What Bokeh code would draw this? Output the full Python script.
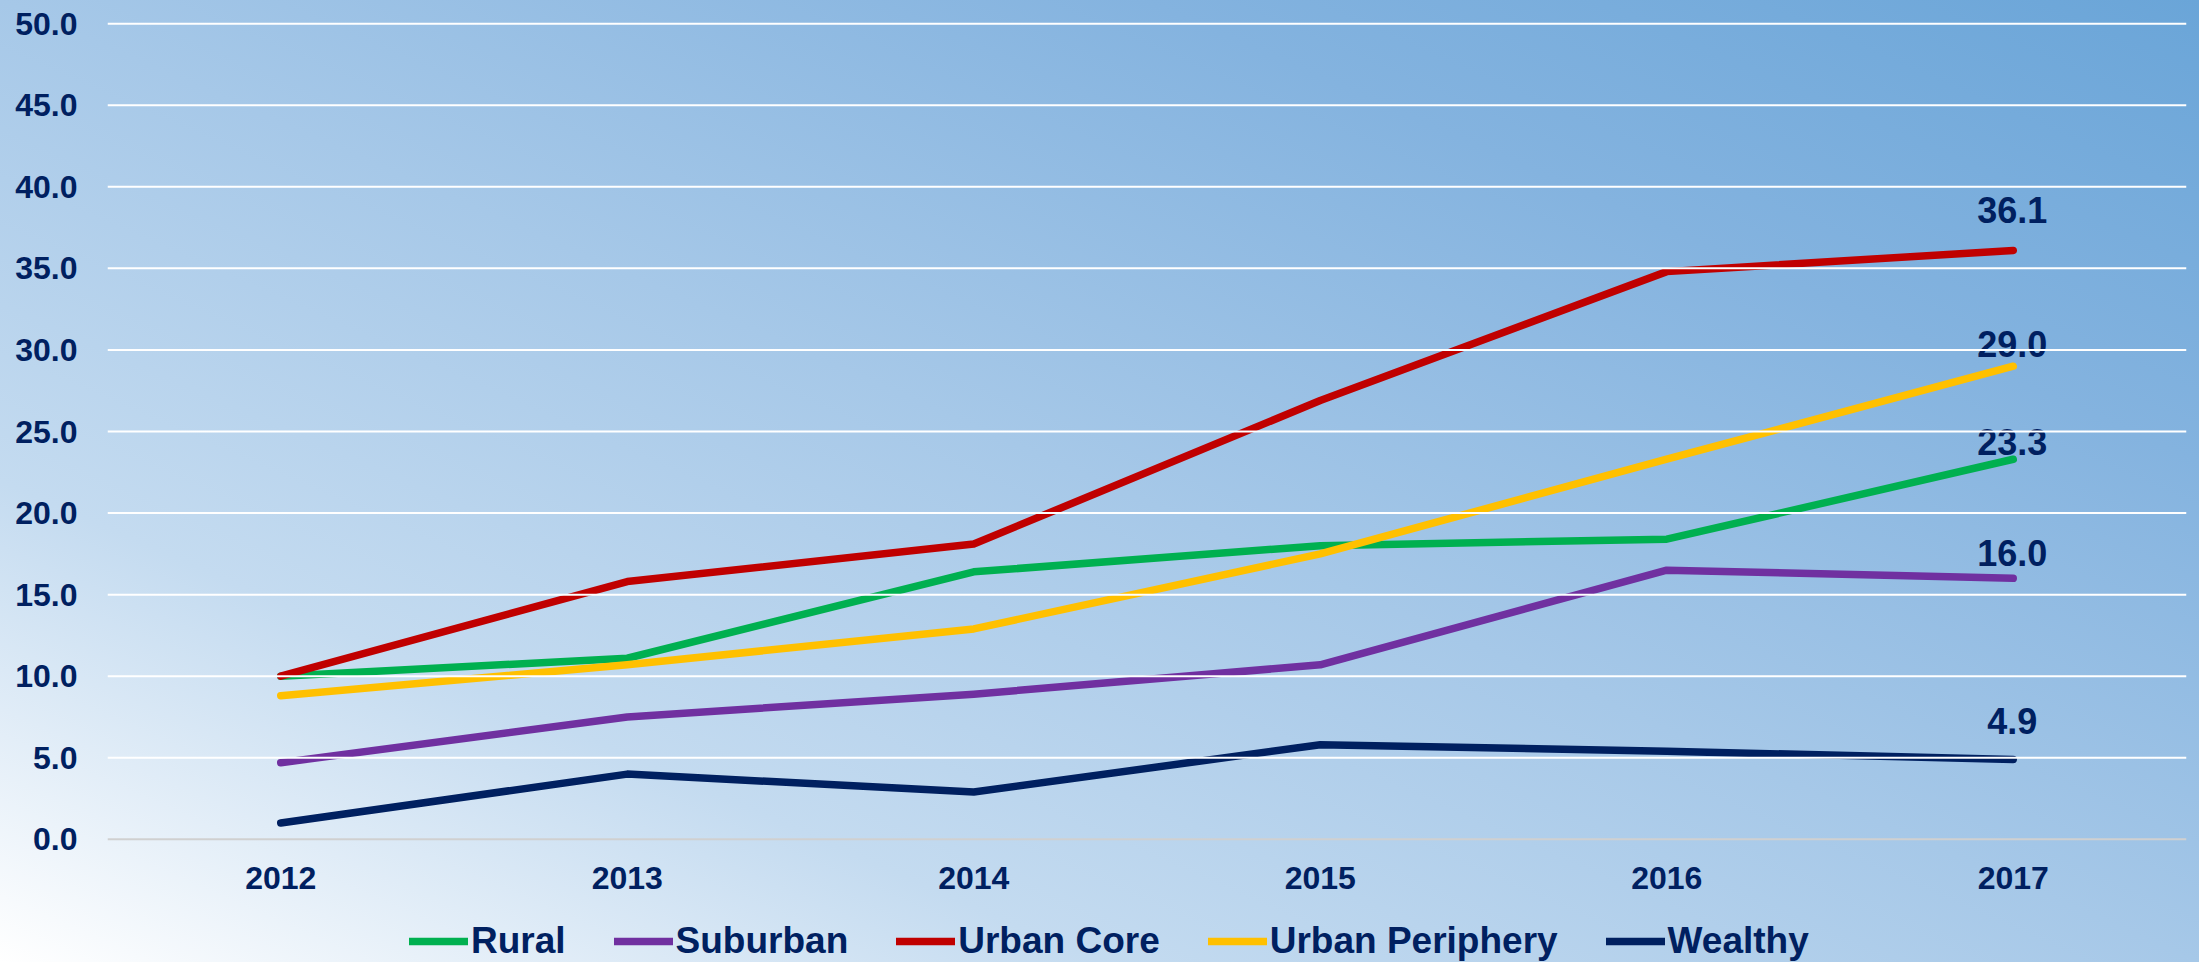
from bokeh.plotting import figure
from bokeh.layouts import column
from bokeh.models import (Range1d, FactorRange, FixedTicker, NumeralTickFormatter,
                          Legend, LegendItem, Span, ColumnDataSource)
from bokeh.core.properties import value
from bokeh.embed import file_html
from bokeh.resources import INLINE

# ---------------- data ----------------
years = ["2012", "2013", "2014", "2015", "2016", "2017"]
series_names = ["Rural", "Suburban", "Urban Core", "Urban Periphery", "Wealthy"]
rural = [10.0, 11.1, 16.4, 18.0, 18.4, 23.3]
suburban = [4.7, 7.5, 8.9, 10.7, 16.5, 16.0]
urban_core = [10.0, 15.8, 18.1, 26.9, 34.8, 36.1]
urban_periphery = [8.8, 10.7, 12.9, 17.5, 23.3, 29.0]
wealthy = [1.0, 4.0, 2.9, 5.8, 5.4, 4.9]
y_ticks = [0, 5, 10, 15, 20, 25, 30, 35, 40, 45, 50]

# ---------------- styles ----------------
colors = ["#00B050", "#7030A0", "#C00000", "#FFC000", "#002060"]
label_dy = [-17, -25, -40, -22, -38]   # pixel offsets of end labels
TEXT = "#002060"
FONT = "Liberation Sans"
LW = 7.5

p = figure(width=2199, height=900, output_backend="svg", toolbar_location=None,
           x_range=FactorRange(factors=years, range_padding=0),
           y_range=Range1d(-0.5, 50.5),
           min_border_left=107, min_border_right=13, min_border_top=15,
           min_border_bottom=53)
p.background_fill_color = None
p.border_fill_color = None
p.outline_line_color = None

p.xgrid.grid_line_color = None
p.ygrid.grid_line_color = None
p.yaxis.ticker = FixedTicker(ticks=y_ticks)
p.yaxis.formatter = NumeralTickFormatter(format="0.0")

for ax in (p.xaxis, p.yaxis):
    ax.axis_line_color = None
    ax.major_tick_line_color = None
    ax.minor_tick_line_color = None
    ax.major_tick_out = 0
    ax.major_tick_in = 0
    ax.major_label_text_font = FONT
    ax.major_label_text_font_style = "bold"
    ax.major_label_text_color = TEXT
    ax.major_label_text_font_size = "32px"
p.yaxis.major_label_standoff = 30
p.xaxis.major_label_standoff = 19

for t in y_ticks[1:]:
    p.add_layout(Span(location=t, dimension="width", line_color="white", line_width=2))
p.add_layout(Span(location=0, dimension="width", line_color="#d0d0d0", line_width=2))

all_series = [rural, suburban, urban_core, urban_periphery, wealthy]
for name, vals, col, dy in zip(series_names, all_series, colors, label_dy):
    p.line(x=years, y=vals, line_color=col, line_width=LW,
           line_cap="round", line_join="round")
    src = ColumnDataSource(dict(x=[years[-1]], y=[vals[-1]], t=[f"{vals[-1]:.1f}"]))
    p.text(x="x", y="y", text="t", source=src, y_offset=dy, x_offset=-1,
           text_font=value(FONT), text_font_style="bold", text_font_size="36px",
           text_color=TEXT, text_align="center", text_baseline="middle")

# ---------------- legend strip (same series, drawn out of view) ----------------
p2 = figure(width=2199, height=62, output_backend="svg", toolbar_location=None,
            x_range=p.x_range, y_range=Range1d(-200, -199),
            x_axis_type=None, y_axis_type=None,
            min_border_left=107, min_border_right=13, min_border_top=0,
            min_border_bottom=0)
p2.background_fill_color = None
p2.border_fill_color = None
p2.outline_line_color = None
p2.grid.grid_line_color = None

items = []
for name, vals, col in zip(series_names, all_series, colors):
    r = p2.line(x=years, y=vals, line_color=col, line_width=LW, line_cap="round")
    items.append(LegendItem(label=name, renderers=[r]))

legend = Legend(items=items, orientation="horizontal", location=(302, 0),
                label_text_font=FONT, label_text_font_style="bold",
                label_text_font_size="37px", label_text_color=TEXT,
                glyph_width=59, glyph_height=20, label_standoff=3, spacing=48,
                padding=0, margin=0, background_fill_alpha=0,
                border_line_color=None)
p2.add_layout(legend, "center")

layout = column(p, p2, spacing=0)
layout.styles = {"background": "linear-gradient(to top right, #ffffff 0%, #c4dbf0 25%, "
                               "#a6c8e8 50%, #84b3df 76%, #6aa5d8 100%)"}

open("out.html", "w").write(file_html(layout, INLINE))
